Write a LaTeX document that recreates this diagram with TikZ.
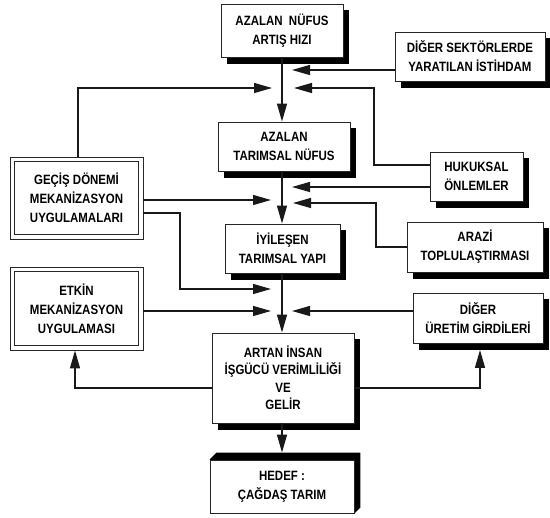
\documentclass[tikz,border=0pt]{standalone}
\usepackage{fontspec}
\setmainfont{Liberation Sans}[FakeStretch=0.85]
\usetikzlibrary{arrows.meta,backgrounds}
\begin{document}
\begin{tikzpicture}[x=1pt,y=-1pt,
  box/.style={draw=black!85, line width=0.9pt, fill=white, align=center,
    inner sep=0pt, font=\fontsize{13.5}{19}\selectfont\bfseries},
  conn/.style={line width=1.3pt, black!90},
  arr/.style={conn, -{Triangle[length=18pt,width=10pt]}},
  shadowfill/.style={fill=black}
]
\useasboundingbox (0,0) rectangle (550,518);

\node[box, minimum width=122pt, minimum height=53pt] (n1) at (282,30.5) {AZALAN \ NÜFUS\\ARTIŞ HIZI};
\node[box, minimum width=150pt, minimum height=49pt] (n2) at (470,56.5) {DİĞER SEKTÖRLERDE\\YARATILAN İSTİHDAM};
\node[box, minimum width=132pt, minimum height=49pt] (n3) at (284,146.5) {AZALAN\\TARIMSAL NÜFUS};
\node[box, minimum width=133pt, minimum height=82pt] (n4) at (76.5,198) {GEÇİŞ DÖNEMİ\\MEKANİZASYON\\UYGULAMALARI};
\node[box, minimum width=115pt, minimum height=49pt] (n5) at (282.5,248.5) {İYİLEŞEN\\TARIMSAL YAPI};
\node[box, minimum width=93pt, minimum height=49pt] (n6) at (476.5,176.5) {HUKUKSAL\\ÖNLEMLER};
\node[box, minimum width=136pt, minimum height=50pt] (n7) at (475,247) {ARAZİ\\TOPLULAŞTIRMASI};
\node[box, minimum width=133pt, minimum height=83pt] (n8) at (76.5,308.5) {ETKİN\\MEKANİZASYON\\UYGULAMASI};
\node[box, minimum width=130pt, minimum height=50pt] (n9) at (478,318) {DİĞER\\ÜRETİM GİRDİLERİ};
\node[box, minimum width=142pt, minimum height=90pt, font=\fontsize{13.5}{17.5}\selectfont\bfseries] (n10) at (283,378) {ARTAN İNSAN\\İŞGÜCÜ VERİMLİLİĞİ\\VE\\GELİR};
\node[box, minimum width=144pt, minimum height=53pt] (n11) at (282,486.5) {HEDEF :\\ÇAĞDAŞ TARIM};

% inner lines of the double boxes
\draw[black!85, line width=0.8pt] ([shift={(5,5)}]n4.north west) rectangle ([shift={(-5,-5)}]n4.south east);
\draw[black!85, line width=0.8pt] ([shift={(5,5)}]n8.north west) rectangle ([shift={(-5,-5)}]n8.south east);

% shadows
\begin{scope}[on background layer]
  \foreach \n in {n1,n2,n3,n5,n6,n7,n9,n10}
    \fill[shadowfill] ([shift={(6,6.5)}]\n.north west) rectangle ([shift={(6,6.5)}]\n.south east);
  \fill[shadowfill] (n11.north west) -- ([shift={(7,-7)}]n11.north west) -- ([shift={(6,-7)}]n11.north east)
     -- ([shift={(6,-6)}]n11.south east) -- (n11.south east) -- cycle;
\end{scope}

\coordinate (t1) at (292,70);
\coordinate (t2) at (272,88);
\coordinate (t3) at (294,88);
\coordinate (t4) at (292,187);
\coordinate (t5) at (271,200);
\coordinate (t6) at (293,203);
\coordinate (t7) at (271,289);
\coordinate (t8) at (271,311);
\coordinate (t9) at (292,311);

% main vertical arrows
\draw[arr] (n1.south -| 282,0) -- (n3.north -| 282,0);
\draw[arr] (n3.south -| 282,0) -- (n5.north -| 282,0);
\draw[arr] (n5.south -| 282,0) -- (n10.north -| 282,0);
\draw[arr] (n10.south -| 282,0) -- ([yshift=7pt]n11.north -| 282,0);

% side connectors
\draw[arr] (n2.west |- 0,70) -- (t1);
\draw[arr] (n4.north -| 78,0) -- (78,88) -- (t2);
\draw[arr] (n6.west |- 0,165) -- (374,165) -- (374,88) -- (t3);
\draw[arr] (n6.west |- 0,187) -- (t4);
\draw[arr] (n4.east |- 0,200) -- (t5);
\draw[arr] (n7.west) -- (376,247) -- (376,203) -- (t6);
\draw[arr] (n4.east |- 0,213) -- (180,213) -- (180,289) -- (t7);
\draw[arr] (n8.east |- 0,311) -- (t8);
\draw[arr] (n9.west |- 0,311) -- (t9);
\draw[arr] (n10.west |- 0,388) -- (75,388) -- (n8.south -| 75,0);
\draw[arr] (n10.east |- 0,388) -- (480,388) -- ([yshift=-6.5pt]n9.south -| 480,0);
\end{tikzpicture}
\end{document}
